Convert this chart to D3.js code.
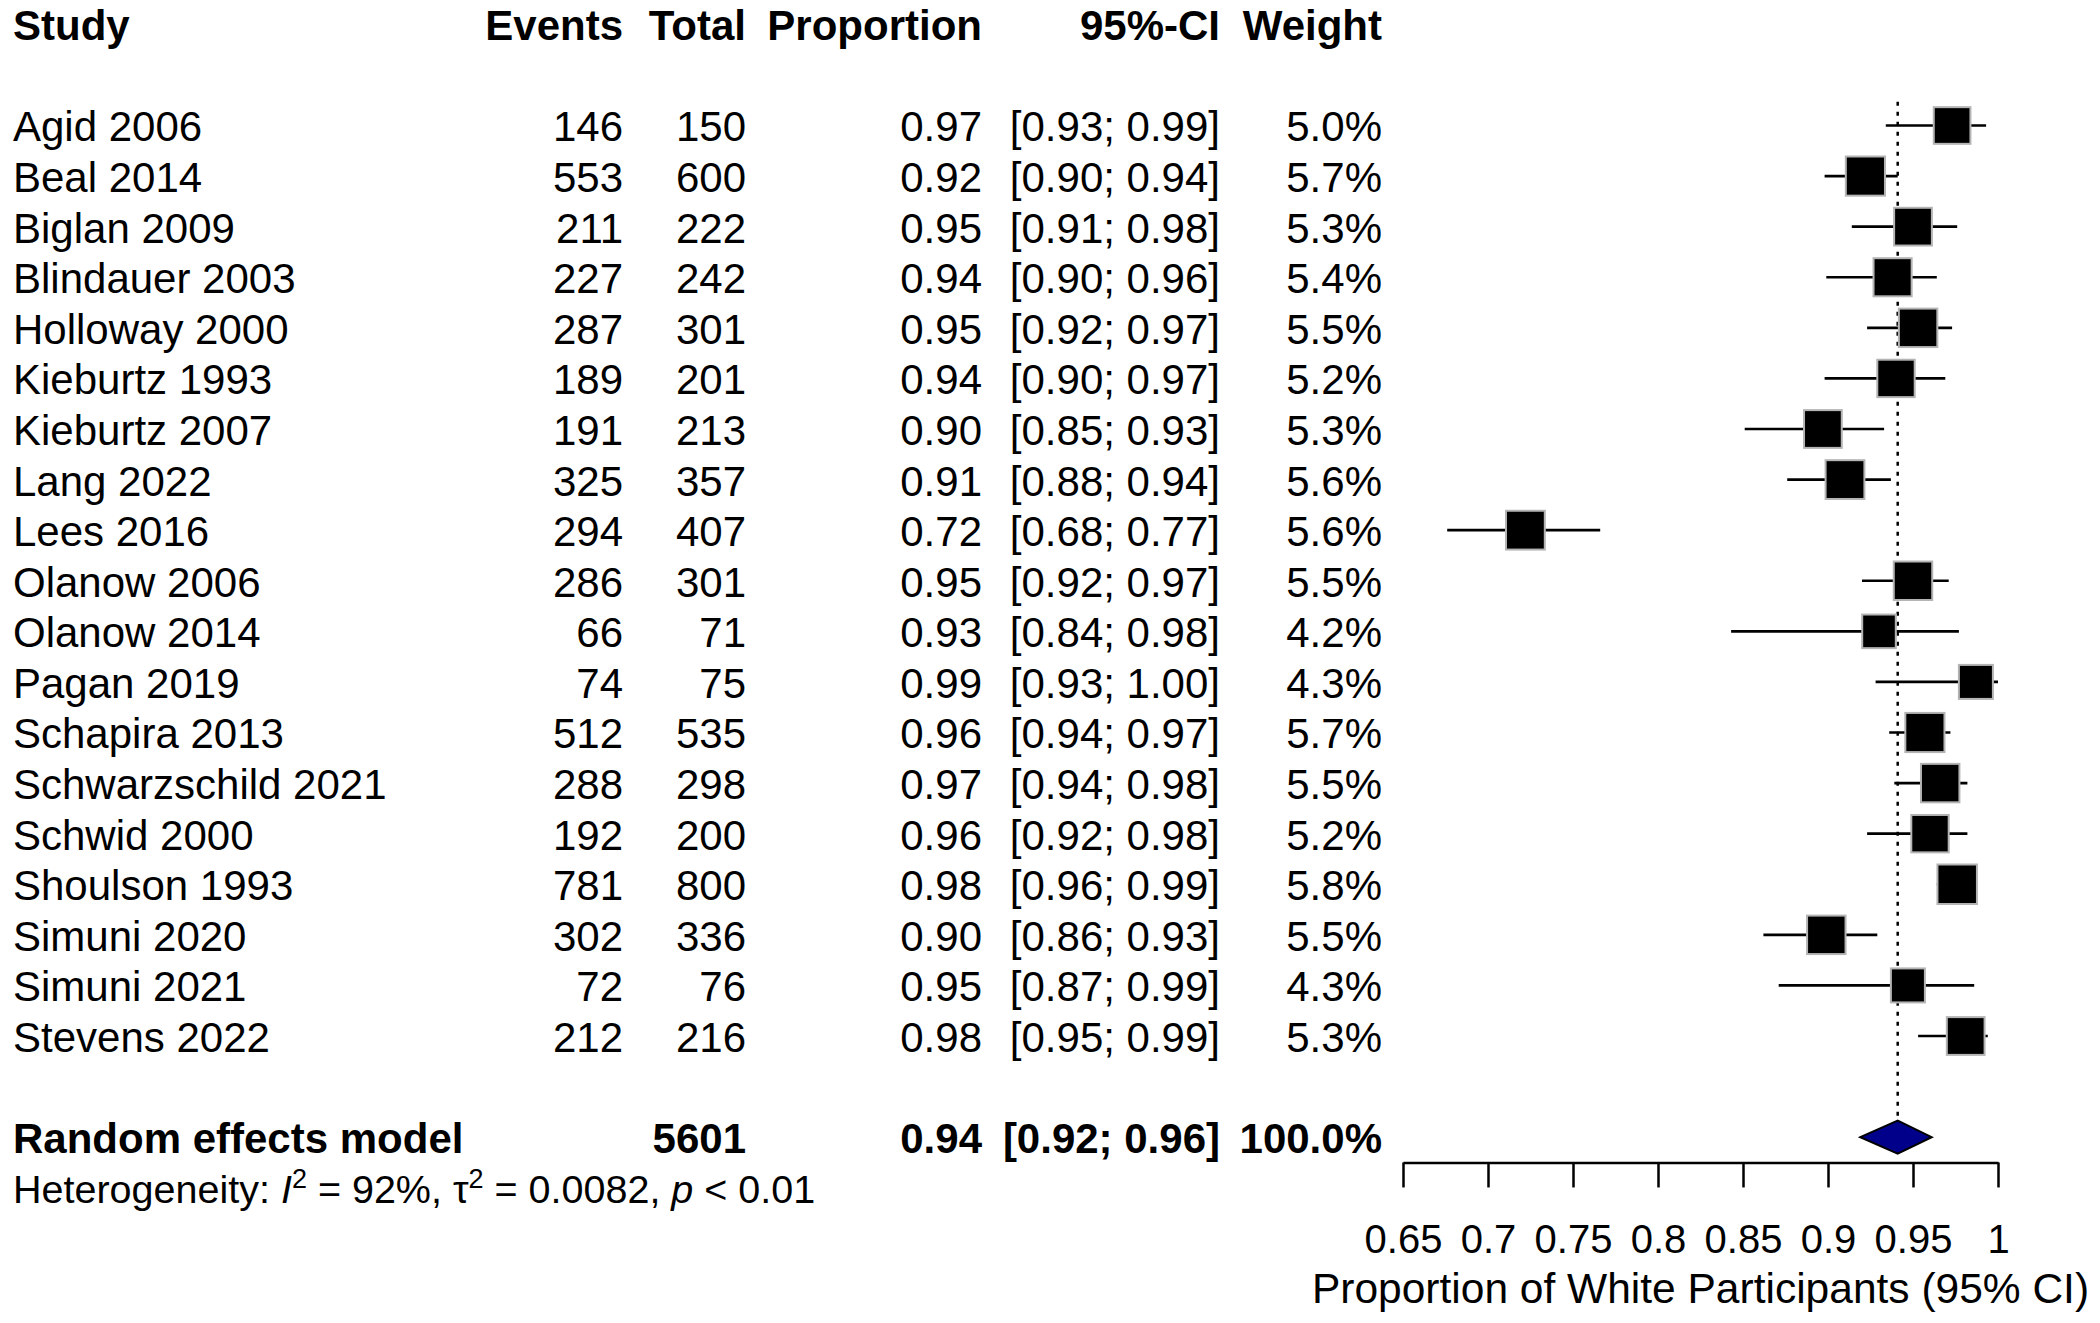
<!DOCTYPE html>
<html>
<head>
<meta charset="utf-8">
<script src="https://cdn.jsdelivr.net/npm/d3@7"></script>
<style>
  body { margin: 0; background: #fff; }
  #chart { width: 2100px; height: 1323px; }
  text { font-family: "Liberation Sans", Arial, Helvetica, sans-serif; fill: #000; }
</style>
</head>
<body>
<div id="chart"></div>
<script>
// study level data
const studies = ["Agid 2006", "Beal 2014", "Biglan 2009", "Blindauer 2003", "Holloway 2000",
    "Kieburtz 1993", "Kieburtz 2007", "Lang 2022", "Lees 2016", "Olanow 2006", "Olanow 2014",
    "Pagan 2019", "Schapira 2013", "Schwarzschild 2021", "Schwid 2000", "Shoulson 1993",
    "Simuni 2020", "Simuni 2021", "Stevens 2022"];
const events = [146, 553, 211, 227, 287, 189, 191, 325, 294, 286, 66, 74, 512, 288, 192, 781, 302, 72, 212];
const totals = [150, 600, 222, 242, 301, 201, 213, 357, 407, 301, 71, 75, 535, 298, 200, 800, 336, 76, 216];
const proportions = [0.973, 0.922, 0.950, 0.938, 0.953, 0.940, 0.897, 0.910, 0.722, 0.950,
    0.930, 0.987, 0.957, 0.966, 0.960, 0.976, 0.899, 0.947, 0.981];
const ciLower = [0.934, 0.898, 0.914, 0.899, 0.923, 0.898, 0.851, 0.876, 0.676, 0.920,
    0.843, 0.928, 0.936, 0.939, 0.923, 0.964, 0.862, 0.871, 0.953];
const ciUpper = [0.993, 0.941, 0.976, 0.964, 0.973, 0.969, 0.933, 0.937, 0.766, 0.971,
    0.977, 1.000, 0.972, 0.982, 0.982, 0.986, 0.929, 0.986, 0.994];
const weights = [5.0, 5.7, 5.3, 5.4, 5.5, 5.2, 5.3, 5.6, 5.6, 5.5, 4.2, 4.3, 5.7, 5.5, 5.2, 5.8, 5.5, 4.3, 5.3];

// random effects summary
const pooledLabel = "Random effects model";
const pooledTotal = 5601;
const pooledEstimate = 0.941;
const pooledLower = 0.919;
const pooledUpper = 0.961;
const pooledWeight = 100;
const hetI2 = "92%";
const hetTau2 = "0.0082";
const hetP = "0.01";

// axis
const tickValues = [0.65, 0.7, 0.75, 0.8, 0.85, 0.9, 0.95, 1];
const tickLabels = ["0.65", "0.7", "0.75", "0.8", "0.85", "0.9", "0.95", "1"];
const xLabel = "Proportion of White Participants (95% CI)";
const headers = ["Study", "Events", "Total", "Proportion", "95%-CI", "Weight"];

class ForestPlot {

    constructor(opts) {
        this.element = opts.element;
        this.data = opts.data;
        this.draw();
    }

    draw() {
        this.width = 2100;
        this.height = 1323;
        this.fontSize = 42;

        this.element.innerHTML = '';
        this.svg = d3.select(this.element).append('svg')
            .attr('width', this.width)
            .attr('height', this.height)
            .attr('viewBox', `0 0 ${this.width} ${this.height}`);

        this.svg.append('rect')
            .attr('width', this.width)
            .attr('height', this.height)
            .attr('fill', '#fff');

        this.createScales();
        this.addTable();
        this.addMarks();
        this.addAxis();
    }

    createScales() {
        this.xScale = d3.scaleLinear()
            .domain([0.65, 1])
            .range([1403, 1998]);

        // row index -> vertical centre of the row
        this.yScale = d3.scaleLinear()
            .domain([0, this.data.length - 1])
            .range([125.5, 1036]);

        this.sizeScale = d3.scaleSqrt()
            .domain([0, d3.max(weights)])
            .range([0, 39.5]);

        this.cols = [
            {x: 623, anchor: 'end'},
            {x: 746, anchor: 'end'},
            {x: 982, anchor: 'end'},
            {x: 1220, anchor: 'end'},
            {x: 1382, anchor: 'end'}
        ];
    }

    addTable() {
        const fmt = d3.format('.2f');
        const fmtW = d3.format('.1f');
        const dy = '0.38em';
        const g = this.svg.append('g').attr('font-size', this.fontSize);

        // header
        g.append('text')
            .attr('x', 13).attr('y', this.yScale(-2)).attr('dy', dy)
            .attr('font-weight', 'bold')
            .text(headers[0]);
        g.selectAll('.hdr')
            .data(headers.slice(1))
            .enter()
            .append('text')
            .attr('class', 'hdr')
            .attr('x', (d, i) => this.cols[i].x)
            .attr('y', this.yScale(-2)).attr('dy', dy)
            .attr('text-anchor', 'end')
            .attr('font-weight', 'bold')
            .text(d => d);

        // study rows
        const rows = g.selectAll('.row')
            .data(this.data)
            .enter()
            .append('g')
            .attr('class', 'row')
            .attr('transform', (d, i) => `translate(0,${this.yScale(i)})`);

        rows.append('text').attr('x', 13).attr('dy', dy).text(d => d.study);

        const cells = [
            d => d.events,
            d => d.total,
            d => fmt(d.prop),
            d => `[${fmt(d.lower)}; ${fmt(d.upper)}]`,
            d => `${fmtW(d.weight)}%`
        ];
        cells.forEach((f, i) => {
            rows.append('text')
                .attr('x', this.cols[i].x)
                .attr('dy', dy)
                .attr('text-anchor', 'end')
                .text(f);
        });

        // summary row
        const sy = this.yScale(this.data.length + 1);
        const summary = [
            {x: 13, anchor: 'start', t: pooledLabel},
            {x: this.cols[1].x, anchor: 'end', t: pooledTotal},
            {x: this.cols[2].x, anchor: 'end', t: fmt(pooledEstimate)},
            {x: this.cols[3].x, anchor: 'end', t: `[${fmt(pooledLower)}; ${fmt(pooledUpper)}]`},
            {x: this.cols[4].x, anchor: 'end', t: `${fmtW(pooledWeight)}%`}
        ];
        g.selectAll('.summary')
            .data(summary)
            .enter()
            .append('text')
            .attr('class', 'summary')
            .attr('x', d => d.x)
            .attr('y', sy).attr('dy', dy)
            .attr('text-anchor', d => d.anchor)
            .attr('font-weight', 'bold')
            .text(d => d.t);

        // heterogeneity line
        const het = g.append('text')
            .attr('x', 13)
            .attr('font-size', 39.5)
            .attr('y', this.yScale(this.data.length + 2)).attr('dy', dy);
        het.append('tspan').text('Heterogeneity: ');
        het.append('tspan').attr('font-style', 'italic').text('I');
        het.append('tspan').attr('font-size', 27).attr('dy', -15).text('2');
        het.append('tspan').attr('dy', 15).text(` = ${hetI2}, \u03C4`);
        het.append('tspan').attr('font-size', 27).attr('dy', -15).text('2');
        het.append('tspan').attr('dy', 15).text(` = ${hetTau2}, `);
        het.append('tspan').attr('font-style', 'italic').text('p');
        het.append('tspan').text(` < ${hetP}`);
    }

    addMarks() {
        const plot = this.svg.append('g');
        const n = this.data.length;

        // dotted line at the pooled estimate
        plot.append('line')
            .attr('x1', this.xScale(pooledEstimate))
            .attr('x2', this.xScale(pooledEstimate))
            .attr('y1', this.yScale(-0.47))
            .attr('y2', this.yScale(n + 1))
            .attr('stroke', '#000')
            .attr('stroke-width', 2.5)
            .attr('stroke-dasharray', '4,6');

        const rows = plot.selectAll('.study')
            .data(this.data)
            .enter()
            .append('g')
            .attr('class', 'study')
            .attr('transform', (d, i) => `translate(0,${this.yScale(i)})`);

        rows.append('line')
            .attr('x1', d => this.xScale(d.lower))
            .attr('x2', d => this.xScale(d.upper))
            .attr('stroke', '#000')
            .attr('stroke-width', 2.6);

        rows.append('rect')
            .attr('x', d => this.xScale(d.prop) - this.sizeScale(d.weight) / 2)
            .attr('y', d => -this.sizeScale(d.weight) / 2)
            .attr('width', d => this.sizeScale(d.weight))
            .attr('height', d => this.sizeScale(d.weight))
            .attr('fill', '#000')
            .attr('stroke', '#b4b4b4')
            .attr('stroke-width', 2);

        // diamond for the random effects model
        const sy = this.yScale(n + 1);
        const h = 16.5;
        const pts = [
            [this.xScale(pooledLower), sy],
            [this.xScale(pooledEstimate), sy - h],
            [this.xScale(pooledUpper), sy],
            [this.xScale(pooledEstimate), sy + h]
        ];
        plot.append('polygon')
            .attr('points', pts.map(p => p.join(',')).join(' '))
            .attr('fill', '#00008b')
            .attr('stroke', '#000')
            .attr('stroke-width', 2);
    }

    addAxis() {
        const axisY = this.yScale(this.data.length + 1.5);
        const xAxis = d3.axisBottom(this.xScale)
            .tickValues(tickValues)
            .tickFormat((d, i) => tickLabels[i])
            .tickSize(25)
            .tickSizeOuter(0)
            .tickPadding(37);

        const ax = this.svg.append('g')
            .attr('class', 'x axis')
            .attr('transform', `translate(0,${axisY})`)
            .call(xAxis);

        ax.select('.domain').attr('stroke', '#000').attr('stroke-width', 2.5);
        ax.selectAll('.tick line').attr('stroke', '#000').attr('stroke-width', 2.5);
        ax.selectAll('.tick text')
            .attr('font-size', 40)
            .attr('font-family', '"Liberation Sans", Arial, sans-serif')
            .attr('fill', '#000');

        this.svg.append('text')
            .attr('x', d3.mean(this.xScale.range()))
            .attr('y', 1303)
            .attr('text-anchor', 'middle')
            .attr('font-size', 42.5)
            .text(xLabel);
    }
}

const data = studies.map((s, i) => ({
    study: s,
    events: events[i],
    total: totals[i],
    prop: proportions[i],
    lower: ciLower[i],
    upper: ciUpper[i],
    weight: weights[i]
}));

new ForestPlot({
    element: document.getElementById('chart'),
    data: data
});
</script>
</body>
</html>
